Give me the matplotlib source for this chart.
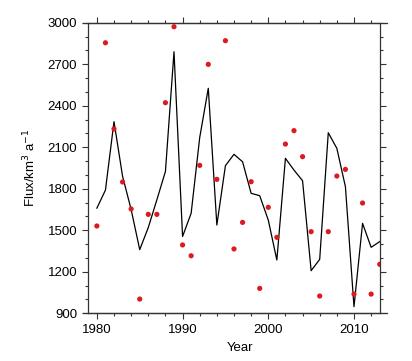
"""
Annual flux (km^3/a) 1980-2013: modelled series as a black line,
observed values as red dots.
"""
import matplotlib
matplotlib.use("Agg")
import matplotlib.pyplot as plt
from matplotlib.lines import Line2D
from matplotlib.ticker import MultipleLocator

years = list(range(1980, 2014))

# black line (simulated)
sim_flux = [1660, 1790, 2285, 1890, 1650, 1360, 1520, 1720, 1925, 2790,
            1455, 1623, 2170, 2526, 1538, 1967, 2049, 1995, 1767, 1750,
            1574, 1285, 2020, 1935, 1858, 1208, 1290, 2205, 2092, 1815,
            948, 1550, 1377, 1418]

# red dots (observed)
obs_flux = [1531, 2855, 2232, 1849, 1654, 1003, 1615, 1615, 2422, 2971,
            1394, 1316, 1969, 2699, 1868, 2870, 1365, 1557, 1851, 1080,
            1666, 1449, 2123, 2220, 2032, 1490, 1025, 1490, 1892, 1940,
            1039, 1697, 1039, 1254]

x_ticks = [1980, 1990, 2000, 2010]
y_ticks = [900, 1200, 1500, 1800, 2100, 2400, 2700, 3000]


def main():
    plt.rcParams["font.family"] = ["Liberation Sans", "DejaVu Sans"]
    plt.rcParams["font.size"] = 9.5

    fig = plt.figure(figsize=(4.12, 3.61), dpi=100)
    ax = fig.add_axes([0.2143, 0.1321, 0.7073, 0.805])

    ax.plot(years, sim_flux, color="black", linewidth=0.9, zorder=2)
    ax.scatter(years, obs_flux, s=14, color="#dd1a1f",
               edgecolors="none", zorder=3)

    ax.set_xlim(1979, 2013)
    ax.set_ylim(900, 3000)
    ax.set_xticks(x_ticks)
    ax.set_yticks(y_ticks)
    ax.xaxis.set_minor_locator(MultipleLocator(2))
    ax.yaxis.set_minor_locator(MultipleLocator(100))

    edge = "#333333"
    for sp in ax.spines.values():
        sp.set_linewidth(0.9)
        sp.set_color(edge)
    ax.tick_params(which="both", direction="out", top=True, right=True,
                   color=edge, width=0.8, labelsize=9.5, pad=3.5)
    ax.tick_params(which="major", length=4.5)
    ax.tick_params(which="minor", length=2.4)

    # horizontal frame lines overshoot the vertical ones a little
    for yy in (0, 1):
        ax.add_line(Line2D([-0.019, 1.024], [yy, yy], transform=ax.transAxes,
                           color=edge, linewidth=0.9, clip_on=False))

    ax.set_ylabel("Flux/km$^3$ a$^{-1}$", fontsize=9.5, labelpad=7)
    ax.set_xlabel("Year", fontsize=9.5)
    ax.xaxis.set_label_coords(0.52, -0.10)

    fig.savefig("out.png", dpi=100)
    plt.close(fig)


if __name__ == "__main__":
    main()
